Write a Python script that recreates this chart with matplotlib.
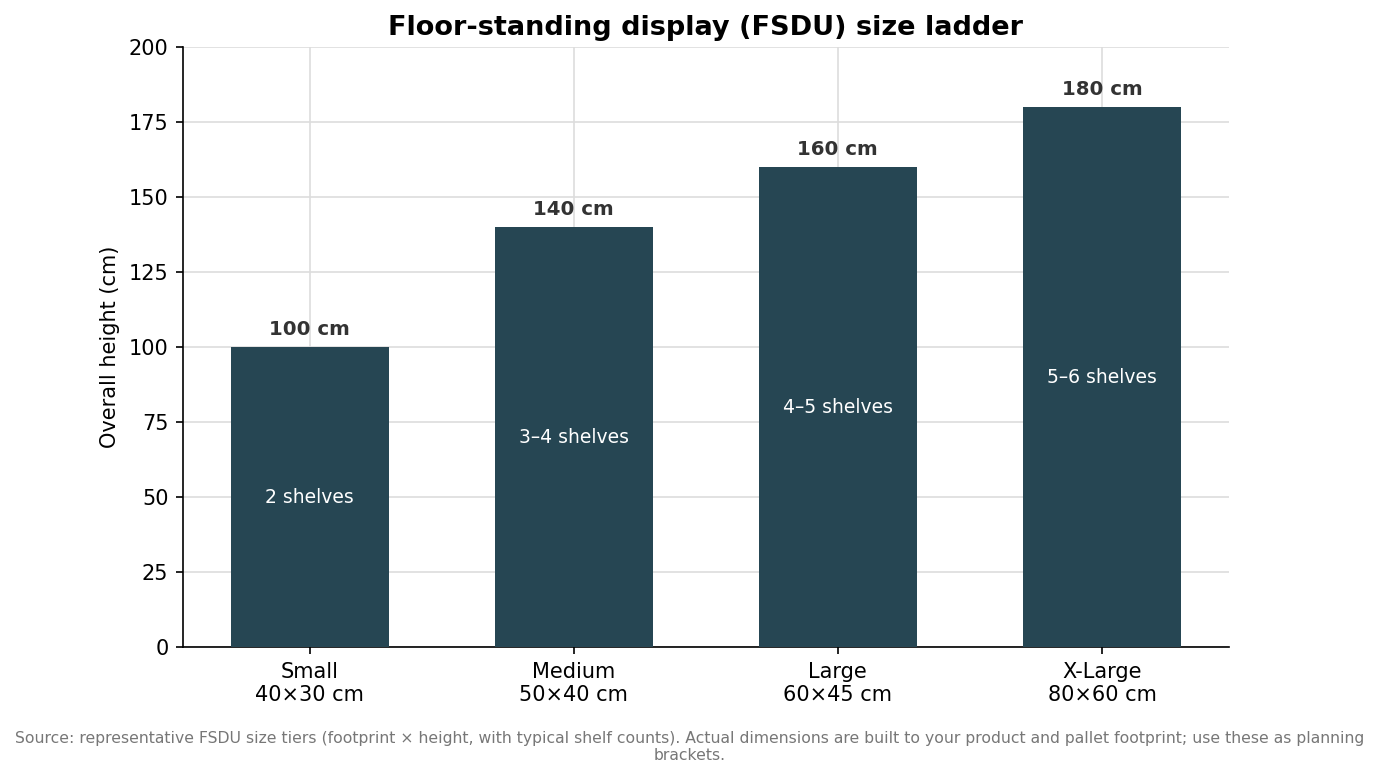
import matplotlib.pyplot as plt

# FSDU size tiers
categorias = ['Small\n40×30 cm', 'Medium\n50×40 cm', 'Large\n60×45 cm', 'X-Large\n80×60 cm']
alturas = [100, 140, 160, 180]
estantes = ['2 shelves', '3–4 shelves', '4–5 shelves', '5–6 shelves']
etiquetas = ['100 cm', '140 cm', '160 cm', '180 cm']

fig = plt.figure(figsize=(1379 / 150, 777 / 150), dpi=150)
ax = fig.add_axes([0.1327, 0.1673, 0.891 - 0.1327, 0.9395 - 0.1673])

x = list(range(len(categorias)))
barras = ax.bar(x, alturas, width=0.6, color='#264653', zorder=3)

for xi, h, e, t in zip(x, alturas, estantes, etiquetas):
    ax.text(xi, h / 2, e, ha='center', va='center', color='white', fontsize=9, zorder=4)
    ax.annotate(t, (xi, h), xytext=(0, 4), textcoords='offset points',
                ha='center', va='bottom', fontsize=9.5, fontweight='bold', color='#333333')

ax.set_xticks(x)
ax.set_xticklabels(categorias, fontsize=10)
ax.set_ylim(0, 200)
ax.set_yticks(range(0, 201, 25))
ax.tick_params(axis='y', labelsize=10)
ax.set_ylabel('Overall height (cm)', fontsize=10)
ax.set_title('Floor-standing display (FSDU) size ladder', fontsize=13, fontweight='bold', pad=6)
ax.grid(True, color='#dddddd', linewidth=0.8, zorder=0)
ax.spines['top'].set_visible(False)
ax.spines['right'].set_visible(False)

fig.text(0.5, 0.018,
         'Source: representative FSDU size tiers (footprint × height, with typical shelf counts). '
         'Actual dimensions are built to your product and pallet footprint; use these as planning\nbrackets.',
         ha='center', va='bottom', fontsize=7.5, color='#777777')

plt.savefig('out.png', dpi=150)
